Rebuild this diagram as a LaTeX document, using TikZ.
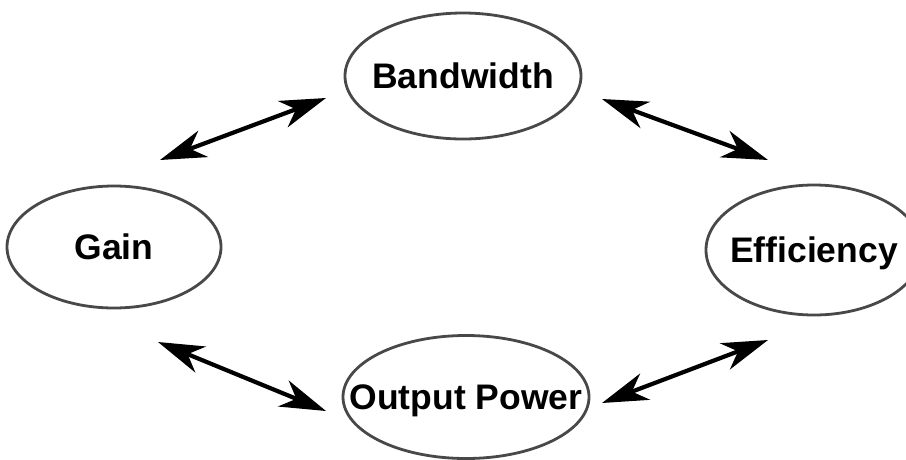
\documentclass[tikz,border=0pt]{standalone}
\usepackage{fontspec}
\setmainfont{Liberation Sans}
\usetikzlibrary{arrows.meta,shapes.geometric}
\definecolor{ovalgray}{RGB}{72,72,72}
\tikzset{
  trait/.style={ellipse,draw=ovalgray,line width=2.8pt,inner xsep=-30pt,inner ysep=0pt,
    text height=25.4pt,text depth=0pt,font=\fontsize{35.5}{40}\selectfont\bfseries},
  tradeArrow/.style={{Stealth[length=46pt,width=28pt,inset=14pt]}-{Stealth[length=46pt,width=28pt,inset=14pt]},line width=4.2pt}
}

\begin{document}
\begin{tikzpicture}[x=1pt,y=-1pt]
  \useasboundingbox (0,0) rectangle (906,459);
  \node[trait,minimum width=214pt,minimum height=122pt] (gain) at (114,247) {Gain};
  \node[trait,minimum width=236pt,minimum height=126pt] (bw) at (463,76) {Bandwidth};
  \node[trait,minimum width=216pt,minimum height=130pt] (eff) at (814,250) {Efficiency};
  \node[trait,minimum width=246pt,minimum height=123pt] (pout) at (466,397) {Output Power};

  % trade-offs
  \draw[tradeArrow] ([shift={(46,-87)}]gain.center) -- ([shift={(-137,22)}]bw.center);
  \draw[tradeArrow] ([shift={(139,23)}]bw.center) -- ([shift={(-46,-90)}]eff.center);
  \draw[tradeArrow] ([shift={(44,95)}]gain.center) -- ([shift={(-140,14)}]pout.center);
  \draw[tradeArrow] ([shift={(136,6)}]pout.center) -- ([shift={(-46,90)}]eff.center);
\end{tikzpicture}
\end{document}
